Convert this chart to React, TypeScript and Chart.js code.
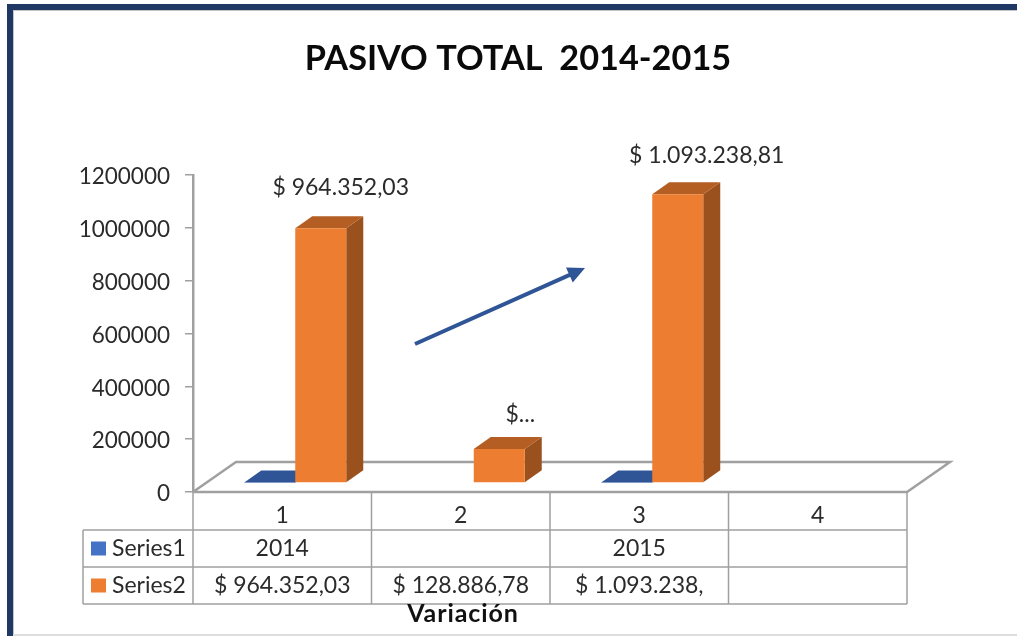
import React, { useEffect, useRef } from "react";
import { Chart, registerables } from "chart.js";

Chart.register(...registerables);

const categories = ["1", "2", "3", "4"];
const series1Name = "Series1";
const series2Name = "Series2";
const series1Values = [2014, null, 2015, null];
const series2Values = [964352.03, 128886.78, 1093238.81, null];
const series1Cells = ["2014", "", "2015", ""];
const series2Cells = ["$ 964.352,03", "$ 128.886,78", "$ 1.093.238,", ""];
const barLabels = ["$ 964.352,03", "$...", "$ 1.093.238,81", ""];
const yTicks = { min: 0, max: 1200000, stepSize: 200000 };
const titleText = "PASIVO TOTAL  2014-2015";
const xAxisTitle = "Variación";

const labelOffsets = [
  { dx: 20, dy: -41 },
  { dx: 21, dy: -34 },
  { dx: 29, dy: -39 },
  { dx: 0, dy: 0 },
];

const FONT = "Lato, 'Open Sans', sans-serif";
const TEXT = "#2B2B2B";
const GREY = "#A0A0A0";
const NAVY = "#1F3864";
const BLUE = "#4472C4";
const BLUE_TOP = "#2F5597";
const ORANGE = "#ED7D31";
const ORANGE_TOP = "#B55E23";
const ORANGE_SIDE = "#9A511E";

const FLOOR = { dx: 43, dy: -30 };
const DEPTH = { dx: 17, dy: -12 };
const INSET = { dx: 13, dy: -9 };
const TABLE = { left: 83, rows: [492, 530, 567, 604] };
const Y_LABEL_NUDGE = 2;

const pseudo3d = {
  id: "pseudo3d",
  beforeDraw(chart: any) {
    const { ctx, width, height } = chart;
    ctx.save();
    ctx.fillStyle = "#FFFFFF";
    ctx.fillRect(0, 0, width, height);
    ctx.fillStyle = NAVY;
    ctx.fillRect(7, 4, width - 7, 6);
    ctx.fillRect(7, 4, 6, height - 4);
    ctx.fillStyle = "#C4C4C4";
    ctx.fillRect(13, 10, width - 13, 1);
    ctx.fillRect(13, 10, 1, height - 10);
    ctx.fillStyle = "#DDDDDD";
    ctx.fillRect(13, height - 2, width - 13, 2);
    ctx.restore();
    // Lato sits a little high on the "middle" baseline
    const items = chart.scales.y.getLabelItems();
    if (!items.nudged) {
      items.forEach((it: any) => {
        it.options.translation[1] += Y_LABEL_NUDGE;
      });
      items.nudged = true;
    }
  },
  beforeDatasetsDraw(chart: any) {
    const { ctx, chartArea: a } = chart;
    // floor
    ctx.save();
    ctx.strokeStyle = GREY;
    ctx.lineWidth = 2.5;
    ctx.beginPath();
    ctx.moveTo(a.left, a.bottom);
    ctx.lineTo(a.left + FLOOR.dx, a.bottom + FLOOR.dy);
    ctx.lineTo(a.right + FLOOR.dx, a.bottom + FLOOR.dy);
    ctx.lineTo(a.right, a.bottom);
    ctx.lineTo(a.left, a.bottom);
    ctx.stroke();
    ctx.restore();
    // bars are set into the floor; the front faces draw inside this translation
    ctx.save();
    ctx.translate(INSET.dx, INSET.dy);
    chart.data.datasets.forEach((ds: any, i: number) => {
      const meta = chart.getDatasetMeta(i);
      meta.data.forEach((el: any, j: number) => {
        if (ds.data[j] == null) return;
        const x0 = el.x - el.width / 2;
        const x1 = el.x + el.width / 2;
        ctx.fillStyle = ds.sideColor;
        ctx.beginPath();
        ctx.moveTo(x1, el.y);
        ctx.lineTo(x1 + DEPTH.dx, el.y + DEPTH.dy);
        ctx.lineTo(x1 + DEPTH.dx, el.base + DEPTH.dy);
        ctx.lineTo(x1, el.base);
        ctx.closePath();
        ctx.fill();
        ctx.fillStyle = ds.topColor;
        ctx.beginPath();
        ctx.moveTo(x0, el.y);
        ctx.lineTo(x0 + DEPTH.dx, el.y + DEPTH.dy);
        ctx.lineTo(x1 + DEPTH.dx, el.y + DEPTH.dy);
        ctx.lineTo(x1, el.y);
        ctx.closePath();
        ctx.fill();
      });
    });
  },
  afterDatasetsDraw(chart: any) {
    const { ctx, chartArea: a, scales } = chart;
    ctx.restore();
    ctx.save();
    // data labels
    ctx.font = `23px ${FONT}`;
    ctx.fillStyle = TEXT;
    ctx.textAlign = "center";
    ctx.textBaseline = "middle";
    chart.getDatasetMeta(1).data.forEach((el: any, j: number) => {
      if (!barLabels[j]) return;
      ctx.fillText(
        barLabels[j],
        el.x + INSET.dx + labelOffsets[j].dx,
        el.y + INSET.dy + labelOffsets[j].dy
      );
    });
    // data table
    const x = scales.x;
    const cw = (a.right - a.left) / categories.length;
    const [r0, r1, r2, r3] = TABLE.rows;
    ctx.strokeStyle = GREY;
    ctx.lineWidth = 1.5;
    ctx.beginPath();
    for (let i = 0; i <= categories.length; i++) {
      const vx = a.left + i * cw;
      ctx.moveTo(vx, r0);
      ctx.lineTo(vx, r3);
    }
    [r1, r2, r3].forEach((ry) => {
      ctx.moveTo(TABLE.left, ry);
      ctx.lineTo(a.right, ry);
    });
    ctx.moveTo(TABLE.left, r1);
    ctx.lineTo(TABLE.left, r3);
    ctx.stroke();
    const rows = [
      { name: series1Name, color: BLUE, cells: series1Cells, top: r1, bottom: r2 },
      { name: series2Name, color: ORANGE, cells: series2Cells, top: r2, bottom: r3 },
    ];
    rows.forEach((row) => {
      const cy = (row.top + row.bottom) / 2;
      ctx.fillStyle = row.color;
      ctx.fillRect(TABLE.left + 8, cy - 7, 15, 14);
      ctx.fillStyle = TEXT;
      ctx.textAlign = "left";
      ctx.fillText(row.name, TABLE.left + 29, cy);
      ctx.textAlign = "center";
      row.cells.forEach((c, i) => {
        if (c) ctx.fillText(c, x.getPixelForValue(i), cy);
      });
    });
    // axis title
    ctx.font = `bold 25px ${FONT}`;
    ctx.fillStyle = "#111111";
    (ctx as any).letterSpacing = "0.9px";
    ctx.fillText(xAxisTitle, 463, 614);
    (ctx as any).letterSpacing = "0px";
    // trend arrow
    const from = { x: 415, y: 344 };
    const tip = { x: 585, y: 268 };
    const ang = Math.atan2(tip.y - from.y, tip.x - from.x);
    ctx.strokeStyle = BLUE_TOP;
    ctx.fillStyle = BLUE_TOP;
    ctx.lineWidth = 4;
    ctx.beginPath();
    ctx.moveTo(from.x, from.y);
    ctx.lineTo(tip.x - 10 * Math.cos(ang), tip.y - 10 * Math.sin(ang));
    ctx.stroke();
    ctx.beginPath();
    ctx.moveTo(tip.x, tip.y);
    ctx.lineTo(tip.x - 19 * Math.cos(ang - 0.45), tip.y - 19 * Math.sin(ang - 0.45));
    ctx.lineTo(tip.x - 19 * Math.cos(ang + 0.45), tip.y - 19 * Math.sin(ang + 0.45));
    ctx.closePath();
    ctx.fill();
    ctx.restore();
  },
};

export default function App() {
  const ref = useRef<HTMLCanvasElement>(null);
  useEffect(() => {
    const chart = new Chart(ref.current as HTMLCanvasElement, {
      type: "bar",
      data: {
        labels: categories,
        datasets: [
          {
            label: series1Name,
            data: series1Values,
            backgroundColor: BLUE,
            topColor: BLUE_TOP,
            sideColor: BLUE_TOP,
            categoryPercentage: 102 / 178.5,
            barPercentage: 1,
            clip: false,
          } as any,
          {
            label: series2Name,
            data: series2Values,
            backgroundColor: ORANGE,
            topColor: ORANGE_TOP,
            sideColor: ORANGE_SIDE,
            categoryPercentage: 102 / 178.5,
            barPercentage: 1,
            clip: false,
          } as any,
        ],
      },
      options: {
        animation: false,
        responsive: false,
        layout: { padding: { left: 19, right: 0, top: 0, bottom: 0 } },
        plugins: {
          legend: { display: false },
          tooltip: { enabled: false },
          title: {
            display: true,
            text: titleText,
            color: "#0A0A0A",
            font: { family: FONT, size: 34.3, weight: "bold", lineHeight: 1.2 },
            padding: { top: 38, bottom: 95.84 },
          },
        },
        scales: {
          x: {
            grid: { display: false },
            border: { display: false },
            ticks: {
              autoSkip: false,
              maxRotation: 0,
              padding: 2,
              color: TEXT,
              font: { family: FONT, size: 23 },
            },
            afterFit: (s: any) => {
              s.height = 144;
            },
          },
          y: {
            min: yTicks.min,
            max: yTicks.max,
            border: { display: true, color: GREY, width: 2.5 },
            grid: {
              drawOnChartArea: false,
              drawTicks: true,
              tickLength: 8,
              color: GREY,
              lineWidth: 1.5,
            },
            ticks: {
              stepSize: yTicks.stepSize,
              padding: 15,
              color: TEXT,
              font: { family: FONT, size: 22.5 },
              callback: (v: any) => String(v),
            },
            afterFit: (s: any) => {
              s.width = 174;
            },
          },
          spacer: {
            type: "linear",
            position: "right",
            border: { display: false },
            grid: { display: false },
            ticks: { display: false },
            afterFit: (s: any) => {
              s.width = 110;
            },
          },
        },
      } as any,
      plugins: [pseudo3d],
    });
    return () => chart.destroy();
  }, []);
  return (
    <div style={{ position: "fixed", left: 0, top: 0, width: 1017, height: 636, overflow: "hidden" }}>
      <canvas ref={ref} width={1017} height={636} style={{ display: "block" }} />
    </div>
  );
}
